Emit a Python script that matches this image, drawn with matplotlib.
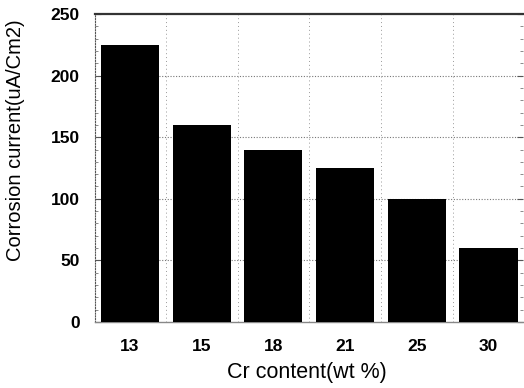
import numpy as np
import matplotlib.pyplot as plt
from matplotlib.ticker import MultipleLocator

cr_content = ['13', '15', '18', '21', '25', '30']
corrosion_current = [225, 160, 140, 125, 100, 60]

plt.rcParams['font.family'] = ['Liberation Sans', 'DejaVu Sans']


def main():
    fig = plt.figure(figsize=(5.24, 3.88), dpi=100)
    ax = fig.add_axes([0.181, 0.170, 0.817, 0.794])

    x = np.arange(len(cr_content))
    ax.bar(x, corrosion_current, width=0.81, color='black', zorder=3)

    ax.set_xlim(-0.49, len(cr_content) - 0.52)
    ax.set_ylim(0, 250)
    ax.set_xticks(x)
    ax.set_xticklabels(cr_content)
    ax.yaxis.set_major_locator(MultipleLocator(50))
    ax.yaxis.set_minor_locator(MultipleLocator(10))

    # dotted grid: horizontal at major ticks, vertical between bars
    for y in (50, 100, 150, 200):
        ax.axhline(y, color='#777777', linestyle=(0, (1, 1.5)), linewidth=0.8, zorder=1)
    for xm in x[:-1] + 0.5:
        ax.axvline(xm, color='#999999', linestyle=(0, (1, 3)), linewidth=0.7, zorder=1)

    ax.spines['top'].set_linewidth(1.6)
    ax.spines['top'].set_color('#333333')
    ax.spines['bottom'].set_linewidth(1.0)
    ax.spines['bottom'].set_color('#888888')
    ax.spines['left'].set_linestyle((0, (1, 1.5)))
    ax.spines['left'].set_color('#555555')
    ax.spines['left'].set_linewidth(0.8)
    ax.spines['right'].set_visible(False)

    ax.tick_params(axis='x', length=0, pad=12, labelsize=12.5)
    ax.tick_params(axis='y', which='major', direction='in', length=4,
                   right=True, pad=11, labelsize=12.5, color='#555555')
    ax.tick_params(axis='y', which='minor', direction='in', length=2,
                   right=True, color='#777777')
    for lbl in ax.get_xticklabels() + ax.get_yticklabels():
        lbl.set_fontweight('bold')

    ax.set_xlabel('Cr content(wt %)', fontsize=15.5)
    ax.xaxis.set_label_coords(0.495, -0.13)
    ax.set_ylabel('Corrosion current(uA/Cm2)', fontsize=14.5)
    ax.yaxis.set_label_coords(-0.163, 0.59)

    fig.savefig('out.png', dpi=100)


if __name__ == '__main__':
    main()
